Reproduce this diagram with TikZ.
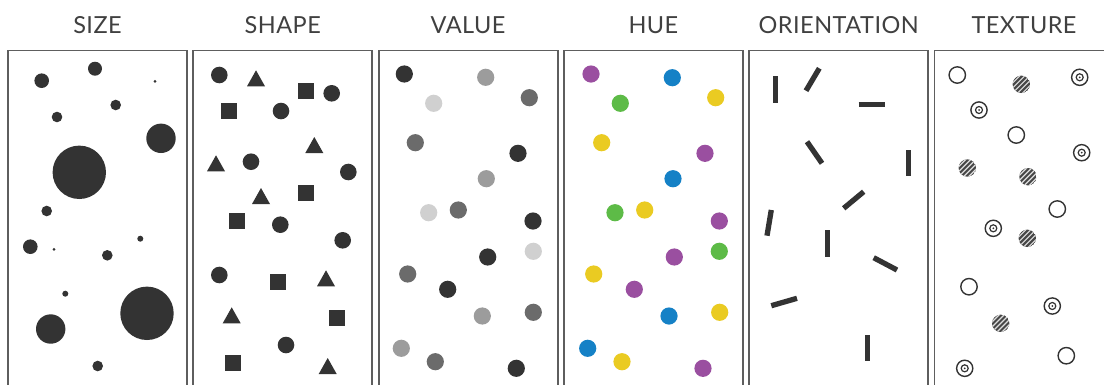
\documentclass[tikz,border=0pt]{standalone}
\usepackage{fontspec}
\setmainfont{Lato}
\newfontfamily\titlefont[LetterSpace=2]{Lato}
\definecolor{ink}{HTML}{333333}
\definecolor{framec}{HTML}{5E5E5E}
\definecolor{titlec}{HTML}{404040}
\definecolor{vmid}{HTML}{6B6B6B}
\definecolor{vlite}{HTML}{9C9C9C}
\definecolor{vpale}{HTML}{D0D0D0}
\definecolor{hpur}{HTML}{9A4FA0}
\definecolor{hblu}{HTML}{1581C6}
\definecolor{hgrn}{HTML}{5DBB47}
\definecolor{hyel}{HTML}{EACB22}
\definecolor{hatchfill}{HTML}{474747}
\tikzset{
  panel/.style={draw=framec, line width=1.8pt},
  title/.style={font=\titlefont\fontsize{23.5}{25}\selectfont, text=titlec, anchor=base, inner sep=0pt},
  bar/.style={draw=ink, line width=5.3pt, line cap=butt},
  ring/.style={draw=ink, line width=1.4pt, fill=white},
}
\newcommand\hatchdot[2]{%
  \begin{scope}
    \clip (#1,#2) circle[radius=8.7pt];
    \fill[hatchfill] (#1,#2) circle[radius=8.7pt];
    \foreach \k in {-15,-10,...,15}
      \draw[white!75!gray, line width=1.2pt] ([xshift=\k pt]#1,#2) ++(-12pt,-12pt) -- ++(24pt,24pt);
  \end{scope}}
\newcommand\targetdot[2]{%
  \draw[ring] (#1,#2) circle[radius=8.1pt];
  \draw[ink, line width=1.2pt] (#1,#2) circle[radius=3.5pt];
  \fill[ink] (#1,#2) circle[radius=1pt];}
\newcommand\opendot[2]{\draw[ring] (#1,#2) circle[radius=8.2pt];}
\begin{document}
\begin{tikzpicture}[x=1pt,y=-1pt]
\clip (0,0) rectangle (1104,384);
\fill[white] (0,0) rectangle (1104,384);
% panels and titles
\foreach \i/\t in {0/SIZE,1/SHAPE,2/VALUE,3/HUE,4/ORIENTATION,5/TEXTURE}{
  \draw[panel] (8+185.3*\i,50.5) rectangle ++(179,345);
  \node[title] (t\i) at (97.5+185.3*\i,33.3) {\t};
}
% SIZE
\foreach \x/\y/\r in {41.7/80.7/7.3, 95/68.7/7, 155/81.3/1.5, 115.7/105/5.3, 57/117/5.3,
  161/138.3/14.7, 79.3/172.3/26.7, 46.7/211/5.3, 30.3/246.7/7.3, 54/249.3/1.5,
  140.3/238.7/3, 107.3/255.3/5.3, 65.3/293.7/3, 147/313.3/26.7, 50.7/329/14.7, 97.7/366/5.3}
  \fill[ink] (\x,\y) circle[radius=\r pt];
% SHAPE circles
\foreach \x/\y in {219.3/75, 331.7/93.3, 281/111, 251/161.7, 348.3/172, 280.3/224.7,
  342.7/240.3, 219.3/275, 286/345}
  \fill[ink] (\x,\y) circle[radius=8.3pt];
% SHAPE squares
\foreach \x/\y in {306/90.7, 229.3/110.7, 306/193.3, 236.7/221, 277.7/281.7, 336.7/318.3, 233.3/363.3}
  \fill[ink] (\x-8,\y-8) rectangle (\x+8,\y+8);
% SHAPE triangles
\foreach \x/\y in {256/78.3, 314.3/145, 216/163.3, 261/196, 326/278.3, 231.7/315.3, 327.7/366}
  \fill[ink] (\x-9,\y+8) -- (\x+9,\y+8) -- (\x,\y-8) -- cycle;
% VALUE
\foreach \x/\y/\c in {404.3/74/ink, 485.7/77.3/vlite, 433.7/103.3/vpale, 529.3/97.7/vmid,
  415.3/142.7/vmid, 518/153.3/ink, 486.3/178.7/vlite, 428.7/212.7/vpale, 458.3/210/vmid,
  533/221/ink, 487.7/257/ink, 533.3/251.3/vpale, 407.7/274/vmid, 447.7/289.3/ink,
  482.3/316/vlite, 533.3/312.3/vmid, 401.3/348.3/vlite, 435.3/361.7/vmid, 516.3/368.3/ink}
  \fill[\c] (\x,\y) circle[radius=8.6pt];
% HUE
\foreach \x/\y/\c in {591/74/hpur, 672.3/77.7/hblu, 620.3/103.3/hgrn, 715.7/97.7/hyel,
  601.7/142.7/hyel, 705/153.3/hpur, 673/178.7/hblu, 615/212.7/hgrn, 644.7/210/hyel,
  719.3/221/hpur, 674.3/257/hpur, 719.3/251.3/hgrn, 593.7/274/hyel, 634.3/289.3/hpur,
  669/316/hblu, 719.7/312.3/hyel, 587.7/348.3/hblu, 622/361.7/hyel, 703/368.3/hpur}
  \fill[\c] (\x,\y) circle[radius=8.6pt];
% ORIENTATION
\foreach \xa/\ya/\xb/\yb in {775.3/76/775.3/102.7, 819.3/68.3/806/90.7, 858.7/104.3/885.3/104.3,
  807/141.7/822/163.3, 908.7/150/908.7/175.7, 863.7/191.7/843.7/208.3, 771.3/210/767/235.7,
  827.7/230/827.7/256.7, 873.7/257.7/897/270, 771.3/305.7/797/298.3, 867.3/335/867.3/361}
  \draw[bar] (\xa,\ya) -- (\xb,\yb);
% TEXTURE
\opendot{957.3}{75}
\hatchdot{1021.3}{84.3}
\targetdot{1079.7}{77.3}
\targetdot{979}{110}
\opendot{1016.3}{135}
\targetdot{1081.7}{152.7}
\hatchdot{967.3}{168}
\hatchdot{1028}{176.7}
\opendot{1057.3}{209}
\targetdot{993.3}{228.3}
\hatchdot{1027.3}{238.3}
\opendot{969}{286.7}
\targetdot{1052.3}{306}
\hatchdot{1000.7}{323.3}
\targetdot{964.7}{368.3}
\opendot{1066.3}{355.7}
\end{tikzpicture}
\end{document}
